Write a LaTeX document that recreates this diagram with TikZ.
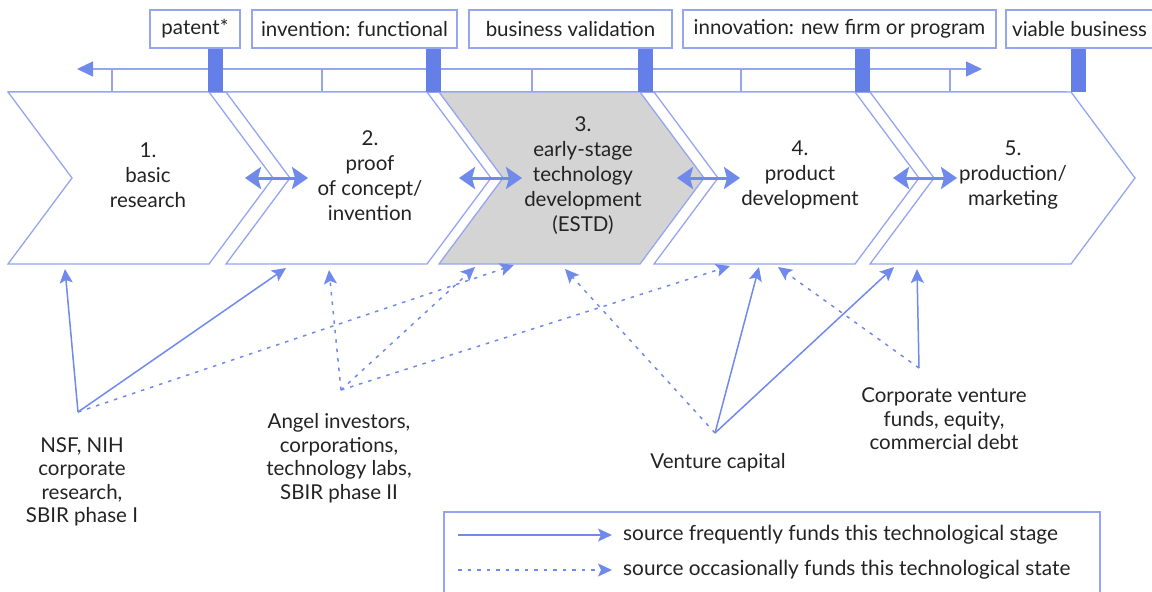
\documentclass[tikz,border=0pt]{standalone}
\usepackage{fontspec}
\setmainfont{Lato}
\usetikzlibrary{arrows.meta}
\definecolor{cline}{RGB}{150,165,240}
\definecolor{cbar}{RGB}{100,128,232}
\definecolor{carrow}{RGB}{112,138,236}
\definecolor{cgray}{RGB}{212,212,212}
\definecolor{ctext}{RGB}{35,35,35}
\newcommand\mychev[3]{%
  \draw[chevline, fill=#2] (#1,92) -- ++(201,0) -- ++(64,86) -- ++(-64,86) -- ++(-201,0) -- ++(64,-86) -- cycle;
  \node[chevtext] (#3) at (#1+142,178) {};}
\begin{document}
\begin{tikzpicture}[x=1pt,y=-1pt,
  chevline/.style={draw=cline, line width=1.3pt},
  chevtext/.style={inner sep=0pt},
  lbl/.style={text=ctext, font=\fontsize{20.5}{25}\selectfont, align=center, inner sep=0pt},
  srclbl/.style={text=ctext, font=\fontsize{20.5}{23.5}\selectfont, align=center, inner sep=0pt},
  topbox/.style={draw=cline, line width=1.3pt, text=ctext, font=\fontsize{20.5}{25}\selectfont, minimum height=38pt, inner sep=0pt},
  bar/.style={fill=cbar, draw=none},
  tline/.style={draw=cline, line width=1.3pt},
  dbl/.style={draw=carrow, line width=3pt, {Stealth[length=16pt,width=22pt,inset=3pt]}-{Stealth[length=16pt,width=22pt,inset=3pt]}},
  freq/.style={draw=carrow, line width=1.5pt, -{Stealth[length=14pt,width=13pt,inset=3pt]}},
  occ/.style={draw=carrow, line width=1.5pt, dash pattern=on 3.5pt off 6pt, -{Stealth[length=14pt,width=13pt,inset=3pt]}},
]
\useasboundingbox (0,0) rectangle (1152,592);

% timeline
\draw[tline] (8,92) -- (1067,92);
\coordinate (tl) at (77,69);
\coordinate (tr) at (982,69);
\draw[tline, {Triangle[length=16pt,width=15pt,color=carrow]}-{Triangle[length=16pt,width=15pt,color=carrow]}] (tl) -- (tr);
\foreach \x in {112,322,532,741,950} \draw[tline] (\x,69) -- (\x,92);

% chevrons
\mychev{8}{white}{c1}
\mychev{226}{white}{c2}
\mychev{439}{cgray}{c3}
\mychev{654}{white}{c4}
\mychev{870}{white}{c5}

% bars
\foreach \x in {208,426,638,855,1071} \fill[bar] (\x,48) rectangle ++(15,44);

% top labels
\node[topbox, minimum width=90pt] (tp) at (195,29) {patent*};
\node[topbox, minimum width=205pt] (ti) at (354.5,29) {invention: functional};
\node[topbox, minimum width=203pt] (tb) at (570.5,29) {business validation};
\node[topbox, minimum width=313pt] (tn) at (839.5,29) {innovation: new firm or program};
\draw[draw=cline, line width=1.3pt] (1153,10) -- (1006,10) -- (1006,48) -- (1153,48);
\node[lbl, anchor=west] (tv) at (1012,29) {viable business};

% chevron texts
\node[lbl] (t1) at (148,175) {1.\\basic\\research};
\node[lbl] (t2) at (370,176) {2.\\proof\\of concept/\\invention};
\node[lbl] (t3) at (583,176) {3.\\early-stage\\technology\\development\\(ESTD)};
\node[lbl] (t4) at (800,175) {4.\\product\\development};
\node[lbl] (t5) at (1013,175) {5.\\production/\\marketing};

% double arrows between stages
\coordinate (d1a) at (245,178); \coordinate (d1b) at (308,178);
\coordinate (d2a) at (459,178); \coordinate (d2b) at (522,178);
\coordinate (d3a) at (677,178); \coordinate (d3b) at (740,178);
\coordinate (d4a) at (893,178); \coordinate (d4b) at (957,178);
\draw[dbl] (d1a) -- (d1b);
\draw[dbl] (d2a) -- (d2b);
\draw[dbl] (d3a) -- (d3b);
\draw[dbl] (d4a) -- (d4b);

% funding sources
\coordinate (nsf) at (78,412);
\coordinate (ang) at (341,390);
\coordinate (vc) at (715,433);
\coordinate (cor) at (919,368);
% targets
\coordinate (b1a) at (65,269);
\coordinate (b2a) at (286,268);
\coordinate (b2b) at (329,270);
\coordinate (b3a) at (475,267);
\coordinate (b3b) at (514,265);
\coordinate (b3c) at (565,269);
\coordinate (b4a) at (730,266);
\coordinate (b4b) at (759,267);
\coordinate (b4c) at (778,267);
\coordinate (b5a) at (894,267);
\coordinate (b5b) at (917,269);

\draw[freq] (nsf) -- (b1a);
\draw[freq] (nsf) -- (b2a);
\draw[occ] (nsf) -- (b3b);
\draw[occ] (ang) -- (b2b);
\draw[occ] (ang) -- (b3a);
\draw[occ] (ang) -- (b4a);
\draw[occ] (vc) -- (b3c);
\draw[freq] (vc) -- (b4b);
\draw[freq] (vc) -- (b5a);
\draw[occ] (cor) -- (b4c);
\draw[freq] (cor) -- (b5b);

\node[srclbl] (snsf) at (82,482) {NSF, NIH\\corporate\\research,\\SBIR phase I};
\node[srclbl] (sang) at (339,458) {Angel investors,\\corporations,\\technology labs,\\SBIR phase II};
\node[srclbl] (svc) at (718,463) {Venture capital};
\node[srclbl] (scor) at (944,419) {Corporate venture\\funds, equity,\\commercial debt};

% legend
\draw[draw=cline, line width=1.3pt] (444,593) -- (444,512) -- (1100,512) -- (1100,593);
\coordinate (l1a) at (458,535); \coordinate (l1b) at (612,535);
\coordinate (l2a) at (458,570); \coordinate (l2b) at (612,570);
\draw[freq] (l1a) -- (l1b);
\draw[occ] (l2a) -- (l2b);
\node[srclbl, anchor=west, font=\fontsize{20.8}{23.5}\selectfont] (lg1) at (623,535) {source frequently funds this technological stage};
\node[srclbl, anchor=west, font=\fontsize{20.8}{23.5}\selectfont] (lg2) at (623,570) {source occasionally funds this technological state};
\end{tikzpicture}
\end{document}
